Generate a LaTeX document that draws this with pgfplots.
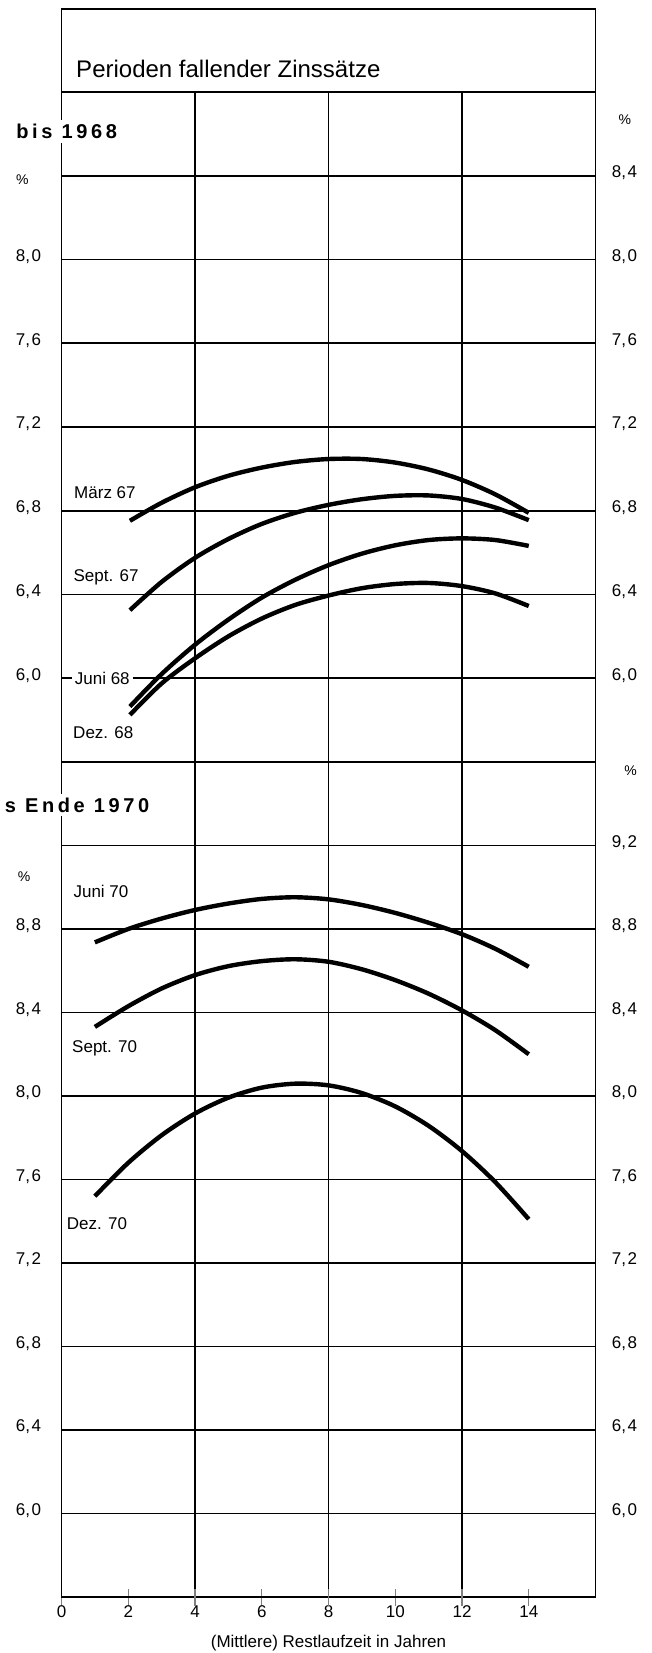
\documentclass[border=0pt]{standalone}
\usepackage{fontspec}
\setmainfont{Liberation Sans}
\newfontfamily\sectfont{Liberation Sans}[LetterSpace=18]
\usepackage{pgfplots}
\pgfplotsset{compat=1.18}

\newcommand\lbl{\fontsize{8.5}{10}\selectfont}
\newcommand\dn[2]{#1,\kern0.8pt#2}

\pgfplotsset{
  panel/.style={
    scale only axis, width=267pt, xmin=0, xmax=16, clip=false,
    axis line style={line width=0.9pt},
    grid style={black, line width=0.9pt},
    ticklabel style={font=\lbl},
  },
  leftlabels/.style={yticklabel style={anchor=east, inner sep=0pt, xshift=-10pt, yshift=1.5pt}},
  rightside/.style={
    panel, axis x line=none, axis y line*=right, y axis line style={draw=none},
    major tick length=0pt,
    yticklabel style={anchor=west, inner sep=0pt, xshift=8pt, yshift=1.5pt},
  },
  curve/.style={line width=2.2pt, smooth, no marks},
}

\begin{document}
\begin{tikzpicture}
\useasboundingbox (-30.75pt,-28pt) rectangle (295.25pt,798.5pt);

% ---------- upper panel: bis 1968
\begin{axis}[panel, leftlabels, name=upper, at={(0,417.5pt)}, anchor=south west,
  height=335pt, ymin=5.6, ymax=8.8,
  xtick={4,8,12}, xticklabels={}, xmajorgrids, ymajorgrids,
  major tick length=0pt,
  ytick={6.0,6.4,6.8,7.2,7.6,8.0,8.4},
  yticklabels={\dn60,\dn64,\dn68,\dn72,\dn76,\dn80,{}},
]
\addplot[curve] coordinates {(2.05,6.752)(3,6.838)(4,6.912)(5,6.967)(6,7.006)(7,7.033)(8,7.047)(9,7.047)(10,7.03)(11,6.997)(12,6.947)(13,6.878)(14,6.79)};
\addplot[curve] coordinates {(2.05,6.325)(3,6.46)(4,6.575)(5,6.665)(6,6.737)(7,6.79)(8,6.828)(9,6.855)(10,6.871)(11,6.873)(12,6.856)(13,6.815)(14,6.755)};
\addplot[curve] coordinates {(2.05,5.865)(3,6.02)(4,6.16)(5,6.28)(6,6.385)(7,6.47)(8,6.54)(9,6.595)(10,6.635)(11,6.66)(12,6.668)(13,6.66)(14,6.632)};
\addplot[curve] coordinates {(2.05,5.825)(3,5.975)(4,6.095)(5,6.2)(6,6.285)(7,6.35)(8,6.395)(9,6.43)(10,6.45)(11,6.455)(12,6.44)(13,6.405)(14,6.345)};
% title box
\draw[line width=0.9pt] (axis cs:0,8.8) -- (axis cs:0,9.196) -- (axis cs:16,9.196) -- (axis cs:16,8.8);
\node[anchor=base west, inner sep=0pt, font=\fontsize{12}{14}\selectfont] at (axis cs:0.43,8.867) {Perioden fallender Zinssätze};
\node[anchor=base west, fill=white, inner sep=2pt, font=\sectfont\bfseries\fontsize{10}{12}\selectfont] at (axis cs:-1.483,8.578) {bis 1968};
\node[font=\fontsize{7}{8}\selectfont] at (axis cs:-1.17,8.38) {\%};
\node[font=\fontsize{7}{8}\selectfont] at (axis cs:16.88,8.666) {\%};
\node[anchor=west, inner sep=0pt, font=\lbl] at (axis cs:0.37,6.885) {März 67};
\node[anchor=west, inner sep=0pt, font=\lbl] at (axis cs:0.35,6.48) {Sept. 67};
\node[anchor=west, inner xsep=1.5pt, inner ysep=1pt, fill=white, font=\lbl] at (axis cs:0.30,6.0) {Juni 68};
\node[anchor=west, inner sep=0pt, font=\lbl] at (axis cs:0.34,5.74) {Dez. 68};
\end{axis}
\begin{axis}[rightside, at={(0,417.5pt)}, anchor=south west,
  height=335pt, ymin=5.6, ymax=8.8,
  ytick={6.0,6.4,6.8,7.2,7.6,8.0,8.4},
  yticklabels={\dn60,\dn64,\dn68,\dn72,\dn76,\dn80,\dn84},
]
\end{axis}

% ---------- lower panel: bis Ende 1970
\begin{axis}[panel, leftlabels, name=lower, at={(0,0)}, anchor=south west,
  height=417.5pt, ymin=5.6, ymax=9.6,
  xtick={0,2,...,14}, xtick pos=bottom, xtick align=center, major tick length=8.5pt,
  xtick style={line width=0.6pt}, ytick style={draw=none},
  extra x ticks={4,8,12}, extra x tick labels={},
  extra x tick style={grid=major},
  ymajorgrids,
  ytick={6.0,6.4,6.8,7.2,7.6,8.0,8.4,8.8,9.2},
  yticklabels={\dn60,\dn64,\dn68,\dn72,\dn76,\dn80,\dn84,\dn88,{}},
  /pgf/number format/assume math mode=true,
  xticklabel style={anchor=north, inner sep=0pt, yshift=0pt},
  xlabel={(Mittlere) Restlaufzeit in Jahren},
  xlabel style={font=\lbl, at={(axis description cs:0.5,0)}, anchor=base, yshift=-25pt},
]
\addplot[curve] coordinates {(1,8.736)(2,8.80)(3,8.85)(4,8.891)(5,8.922)(6,8.944)(7,8.952)(8,8.942)(9,8.915)(10,8.877)(11,8.83)(12,8.775)(13,8.705)(14,8.619)};
\addplot[curve] coordinates {(1,8.331)(2,8.43)(3,8.515)(4,8.579)(5,8.622)(6,8.646)(7,8.655)(8,8.643)(9,8.607)(10,8.555)(11,8.49)(12,8.41)(13,8.315)(14,8.2)};
\addplot[curve] coordinates {(1,7.52)(2,7.68)(3,7.812)(4,7.916)(5,7.992)(6,8.04)(7,8.059)(8,8.051)(9,8.014)(10,7.95)(11,7.857)(12,7.736)(13,7.587)(14,7.41)};
\node[anchor=base west, fill=white, inner sep=2pt, font=\sectfont\bfseries\fontsize{10}{12}\selectfont] at (axis cs:-1.83,9.36) {s Ende 1970};
\node[font=\fontsize{7}{8}\selectfont] at (axis cs:-1.12,9.05) {\%};
\node[font=\fontsize{7}{8}\selectfont] at (axis cs:17.05,9.56) {\%};
\node[anchor=west, inner sep=0pt, font=\lbl] at (axis cs:0.35,8.982) {Juni 70};
\node[anchor=west, inner sep=0pt, font=\lbl] at (axis cs:0.31,8.227) {Sept. 70};
\node[anchor=west, inner sep=0pt, font=\lbl] at (axis cs:0.15,7.39) {Dez. 70};
\end{axis}
\begin{axis}[rightside, at={(0,0)}, anchor=south west,
  height=417.5pt, ymin=5.6, ymax=9.6,
  ytick={6.0,6.4,6.8,7.2,7.6,8.0,8.4,8.8,9.2},
  yticklabels={\dn60,\dn64,\dn68,\dn72,\dn76,\dn80,\dn84,\dn88,\dn92},
]
\end{axis}
\end{tikzpicture}
\end{document}
